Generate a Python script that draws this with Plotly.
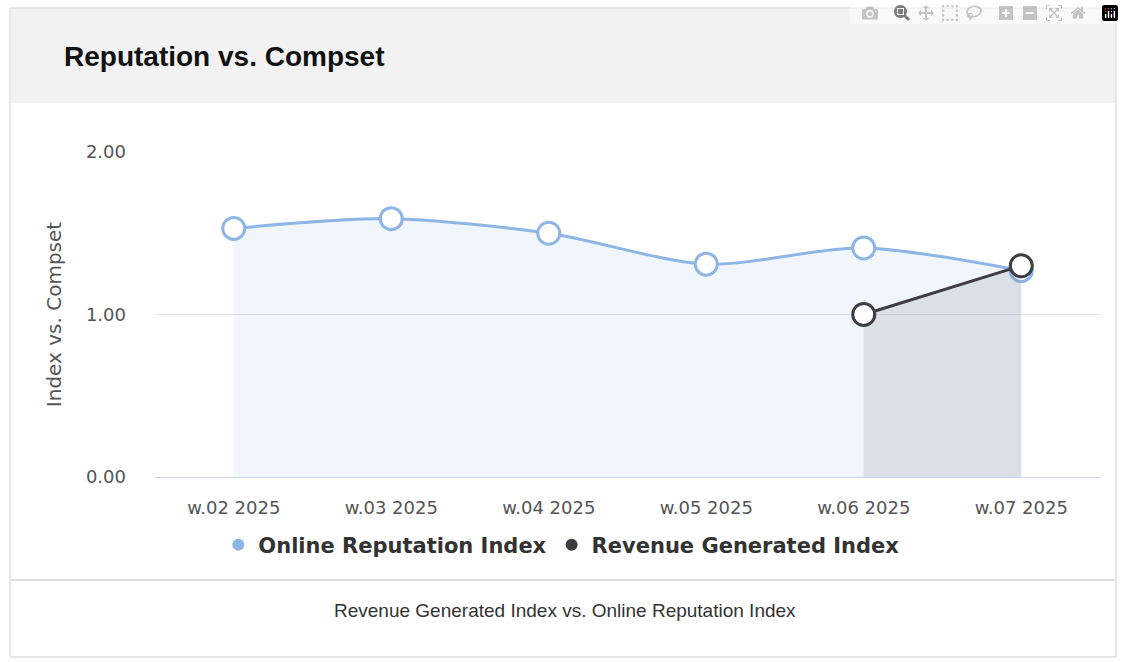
import plotly.graph_objects as go

weeks = ["w.02 2025", "w.03 2025", "w.04 2025", "w.05 2025", "w.06 2025", "w.07 2025"]
online = [1.53, 1.59, 1.50, 1.31, 1.41, 1.27]
revenue = [None, None, None, None, 1.00, 1.30]
y_ticks = [0, 1, 2]
y_tick_labels = ["0.00", "1.00", "2.00"]

W, H = 1124, 662
L, R, T, B = 155, 24, 152, 185
PW, PH = W - L - R, H - T - B

def px(x): return (x - L) / PW
def py(y): return (H - B - y) / PH

BLUE, DARK = "#8db6e6", "#3d3d42"
fig = go.Figure()
fig.add_trace(go.Scatter(
    x=weeks, y=online, name="Online Reputation Index", mode="lines+markers", showlegend=False,
    line=dict(color=BLUE, width=3, shape="spline", smoothing=0.8),
    fill="tozeroy", fillcolor="rgba(141,182,230,0.12)",
    marker=dict(size=22, color="white", line=dict(color=BLUE, width=3)),
))
fig.add_trace(go.Scatter(
    x=weeks, y=revenue, name="Revenue Generated Index", mode="lines+markers", showlegend=False,
    line=dict(color=DARK, width=3),
    fill="tozeroy", fillcolor="rgba(120,125,140,0.18)",
    marker=dict(size=22, color="white", line=dict(color=DARK, width=3)),
))
for nm, c in [("Online Reputation Index", BLUE), ("Revenue Generated Index", DARK)]:
    fig.add_trace(go.Scatter(x=[None], y=[None], mode="markers", name="<b>" + nm + "</b>",
                             marker=dict(size=20, color=c)))

shapes = [
    dict(type="rect", xref="paper", yref="paper", x0=px(10), x1=px(1116), y0=py(657), y1=py(8),
         line=dict(color="#d0d0d0", width=1), fillcolor="rgba(0,0,0,0)", layer="below"),
    dict(type="rect", xref="paper", yref="paper", x0=px(11), x1=px(1115), y0=py(103), y1=py(9),
         line=dict(width=0), fillcolor="#f2f2f2", layer="below"),
    dict(type="line", xref="paper", yref="paper", x0=px(11), x1=px(1115), y0=py(580), y1=py(580),
         line=dict(color="#d6d6d6", width=1.5)),
]
annotations = [
    dict(text="<b>Reputation vs. Compset</b>", xref="paper", yref="paper", x=px(62), y=py(57),
         xanchor="left", yanchor="middle", showarrow=False,
         font=dict(size=28, color="#111", family="Liberation Sans, Arial")),
    dict(text="Revenue Generated Index vs. Online Reputation Index", xref="paper", yref="paper",
         x=px(565), y=py(610), xanchor="center", yanchor="middle", showarrow=False,
         font=dict(size=19, color="#333", family="Liberation Sans, Arial")),
]

fig.update_layout(
    width=W, height=H, margin=dict(l=L, r=R, t=T, b=B),
    paper_bgcolor="white", plot_bgcolor="white",
    font=dict(family="DejaVu Sans, Open Sans", color="#555", size=18),
    shapes=shapes, annotations=annotations,
    legend=dict(orientation="h", x=0.43, xanchor="center", y=py(545), yanchor="middle",
                font=dict(size=21, color="#333"), itemsizing="constant", itemwidth=30),
    xaxis=dict(range=[-0.5, 5.5], showgrid=False, showline=True, linecolor="#ccd6eb", ticks="",
               ticklabelstandoff=14, tickfont=dict(size=18, color="#555")),
    yaxis=dict(range=[0, 2], tickvals=y_ticks, ticktext=y_tick_labels, gridcolor="#e3e3e3",
               zeroline=False, ticklabelstandoff=28,
               title=dict(text="Index vs. Compset", font=dict(size=20, color="#555"), standoff=18),
               tickfont=dict(size=18, color="#555")),
)
fig.write_html("out.html", post_script="document.body.style.margin='0';document.body.style.overflow='hidden';")
